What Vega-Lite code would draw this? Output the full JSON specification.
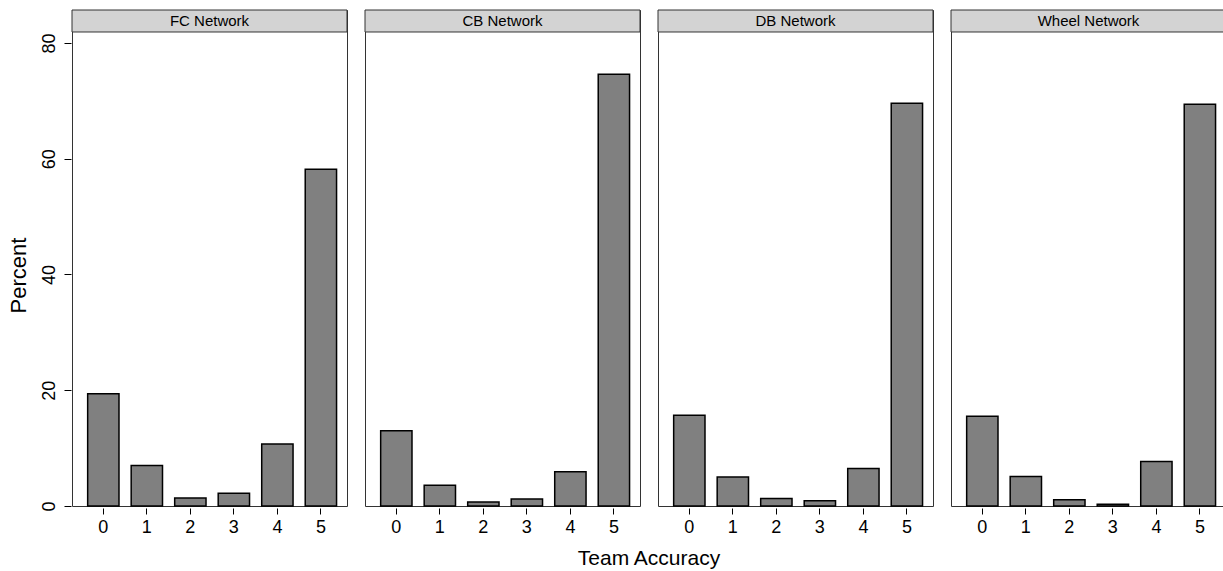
{
  "$schema": "https://vega.github.io/schema/vega-lite/v6.json",
  "padding": {"left": 7, "top": 9, "right": 0, "bottom": 5},
  "background": "white",
  "config": {
    "font": "Liberation Sans",
    "view": {"stroke": "#333333", "strokeWidth": 1}
  },
  "data": {
    "values": [
      {"network": "FC Network", "accuracy": 0, "percent": 19.4},
      {"network": "FC Network", "accuracy": 1, "percent": 7.0},
      {"network": "FC Network", "accuracy": 2, "percent": 1.4},
      {"network": "FC Network", "accuracy": 3, "percent": 2.2},
      {"network": "FC Network", "accuracy": 4, "percent": 10.7},
      {"network": "FC Network", "accuracy": 5, "percent": 58.2},
      {"network": "CB Network", "accuracy": 0, "percent": 13.0},
      {"network": "CB Network", "accuracy": 1, "percent": 3.6},
      {"network": "CB Network", "accuracy": 2, "percent": 0.7},
      {"network": "CB Network", "accuracy": 3, "percent": 1.2},
      {"network": "CB Network", "accuracy": 4, "percent": 5.9},
      {"network": "CB Network", "accuracy": 5, "percent": 74.6},
      {"network": "DB Network", "accuracy": 0, "percent": 15.7},
      {"network": "DB Network", "accuracy": 1, "percent": 5.0},
      {"network": "DB Network", "accuracy": 2, "percent": 1.3},
      {"network": "DB Network", "accuracy": 3, "percent": 0.9},
      {"network": "DB Network", "accuracy": 4, "percent": 6.5},
      {"network": "DB Network", "accuracy": 5, "percent": 69.6},
      {"network": "Wheel Network", "accuracy": 0, "percent": 15.5},
      {"network": "Wheel Network", "accuracy": 1, "percent": 5.1},
      {"network": "Wheel Network", "accuracy": 2, "percent": 1.1},
      {"network": "Wheel Network", "accuracy": 3, "percent": 0.3},
      {"network": "Wheel Network", "accuracy": 4, "percent": 7.7},
      {"network": "Wheel Network", "accuracy": 5, "percent": 69.4}
    ]
  },
  "facet": {
    "column": {
      "field": "network",
      "type": "nominal",
      "sort": ["FC Network", "CB Network", "DB Network", "Wheel Network"],
      "header": {
        "labels": false,
        "title": "Team Accuracy",
        "titleOrient": "bottom",
        "titleFontSize": 21,
        "titleFontWeight": "normal",
        "titleColor": "black",
        "titlePadding": 2
      }
    }
  },
  "spacing": 16,
  "spec": {
    "width": 275,
    "height": 496,
    "layer": [
      {
        "mark": {"type": "bar", "fill": "#808080", "stroke": "black", "strokeWidth": 1.5},
        "encoding": {
          "x": {
            "field": "accuracy",
            "type": "ordinal",
            "scale": {"paddingInner": 0.28, "paddingOuter": 0.3, "align": 0.6},
            "axis": {
              "title": null,
              "labelAngle": 0,
              "labelFontSize": 18,
              "labelColor": "black",
              "tickColor": "black",
              "tickSize": 6,
              "labelPadding": 4,
              "domain": false
            }
          },
          "y": {
            "field": "percent",
            "type": "quantitative",
            "scale": {"domain": [0, 85.7], "nice": false, "zero": true},
            "axis": {
              "title": "Percent",
              "titleFontSize": 22,
              "titleFontWeight": "normal",
              "titleColor": "black",
              "titleY": 265,
              "titlePadding": 10,
              "values": [0, 20, 40, 60, 80],
              "labelAngle": 270,
              "labelFontSize": 18,
              "labelColor": "black",
              "tickColor": "black",
              "tickSize": 7,
              "labelPadding": 6,
              "grid": false,
              "domain": false
            }
          }
        }
      },
      {
        "transform": [{"filter": "datum.accuracy == 0"}],
        "mark": {"type": "rect", "fill": "#d3d3d3", "stroke": "#333333", "strokeWidth": 1},
        "encoding": {
          "y": {"datum": 81.9},
          "y2": {"datum": 85.7}
        }
      },
      {
        "transform": [{"filter": "datum.accuracy == 0"}],
        "mark": {"type": "text", "fontSize": 15, "color": "black", "baseline": "middle", "align": "center"},
        "encoding": {
          "y": {"datum": 83.8},
          "text": {"field": "network"}
        }
      }
    ]
  }
}
